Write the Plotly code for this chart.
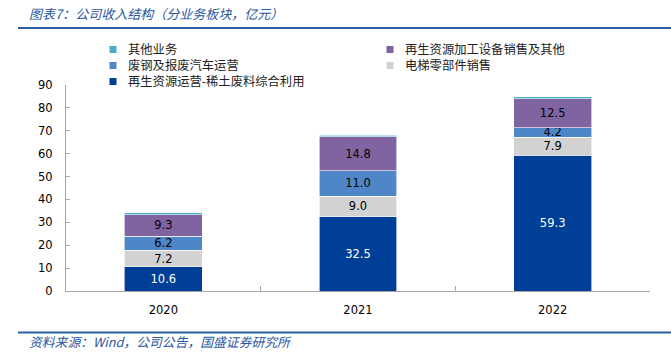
import plotly.graph_objects as go

years = ["2020", "2021", "2022"]
rare_earth = [10.6, 32.5, 59.3]      # 再生资源运营-稀土废料综合利用
elevator = [7.2, 9.0, 7.9]           # 电梯零部件销售
scrap_steel = [6.2, 11.0, 4.2]       # 废钢及报废汽车运营
equipment = [9.3, 14.8, 12.5]        # 再生资源加工设备销售及其他
other = [0.8, 0.8, 0.9]              # 其他业务

series_names = ["再生资源运营-稀土废料综合利用", "电梯零部件销售", "废钢及报废汽车运营",
                "再生资源加工设备销售及其他", "其他业务"]
series_values = [rare_earth, elevator, scrap_steel, equipment, other]
series_colors = ["#003F98", "#D2D2D2", "#4F86C8", "#8064A2", "#4BACC6"]
text_colors = ["white", "black", "black", "black", "black"]
show_text = [True, True, True, True, False]

# legend columns: series indices top to bottom
legend_columns = [[4, 2, 0], [3, 1]]

NUM_FONT = "DejaVu Sans, Noto Sans CJK SC"
CJK_FONT = "Noto Sans CJK SC, DejaVu Sans"

fig = go.Figure()
for name, vals, color, tcolor, st in zip(series_names, series_values, series_colors,
                                         text_colors, show_text):
    fig.add_trace(go.Bar(
        x=years, y=vals, name=name, width=0.4,
        marker=dict(color=color, line=dict(color="white", width=0.6)),
        text=[f"{v:.1f}" for v in vals] if st else None,
        textposition="inside" if st else "none",
        insidetextanchor="middle",
        textfont=dict(family=NUM_FONT, size=11.5, color=tcolor),
        showlegend=False,
    ))

L, R, T, B = 66, 21, 85, 66
W, H = 671, 357
pw, ph = W - L - R, H - T - B

def px_x(x):
    return (x - L) / pw

def px_y(y):
    return (H - B - y) / ph

line_color = "#2B5EA8"
fig.add_shape(type="line", xref="paper", yref="paper",
              x0=px_x(18), x1=px_x(671), y0=px_y(28), y1=px_y(28),
              line=dict(color=line_color, width=2))
fig.add_shape(type="line", xref="paper", yref="paper",
              x0=px_x(18), x1=px_x(671), y0=px_y(332.5), y1=px_y(332.5),
              line=dict(color=line_color, width=2))

fig.add_annotation(text="<i>图表7：公司收入结构（分业务板块，亿元）</i>",
                   xref="paper", yref="paper", x=px_x(27), y=px_y(14),
                   xanchor="left", yanchor="middle", showarrow=False,
                   font=dict(family=CJK_FONT, size=13, color="#2A56A0"))
fig.add_annotation(text="<i>资料来源：Wind，公司公告，国盛证券研究所</i>",
                   xref="paper", yref="paper", x=px_x(27), y=px_y(341),
                   xanchor="left", yanchor="middle", showarrow=False,
                   font=dict(family=CJK_FONT, size=12.8, color="#2A56A0"))

# two-column legend (one text block per column, square markers as shapes)
LEG_FONT = 12.3
line_h = LEG_FONT * 1.3
first_row = 49.5
col_marker_x = [113, 390]
col_text_x = [126, 403]
for col, idxs in enumerate(legend_columns):
    rows = [first_row + i * line_h for i in range(len(idxs))]
    for idx, my in zip(idxs, rows):
        mx = col_marker_x[col]
        fig.add_shape(type="rect", xref="paper", yref="paper",
                      x0=px_x(mx - 3.5), x1=px_x(mx + 3.5),
                      y0=px_y(my + 3.5), y1=px_y(my - 3.5),
                      line=dict(width=0), fillcolor=series_colors[idx])
    fig.add_annotation(text="<br>".join(series_names[i] for i in idxs),
                       xref="paper", yref="paper",
                       x=px_x(col_text_x[col]), y=px_y((rows[0] + rows[-1]) / 2),
                       xanchor="left", yanchor="middle", align="left",
                       showarrow=False,
                       font=dict(family=CJK_FONT, size=LEG_FONT, color="#222222"))

fig.update_layout(
    width=W, height=H,
    margin=dict(l=L, r=R, t=T, b=B, pad=0),
    paper_bgcolor="white", plot_bgcolor="white",
    barmode="stack",
    showlegend=False,
    uniformtext=dict(minsize=11.5, mode="show"),
    xaxis=dict(
        type="category", showline=True, linecolor="#A6A6A6", linewidth=1,
        ticks="inside", tickson="boundaries", ticklen=5, tickcolor="#A6A6A6",
        showgrid=False, zeroline=False,
        tickfont=dict(family=NUM_FONT, size=11.5, color="#000000"),
        ticklabelstandoff=8,
    ),
    yaxis=dict(
        range=[0, 90], dtick=10, showline=True, linecolor="#A6A6A6", linewidth=1,
        ticks="inside", ticklen=4, tickcolor="#A6A6A6",
        showgrid=False, zeroline=False,
        tickfont=dict(family=NUM_FONT, size=11.5, color="#000000"),
        ticklabelstandoff=10,
    ),
)

fig.write_html("out.html", config={"displayModeBar": False},
               post_script="document.body.style.margin='0';document.body.style.overflow='hidden';")
